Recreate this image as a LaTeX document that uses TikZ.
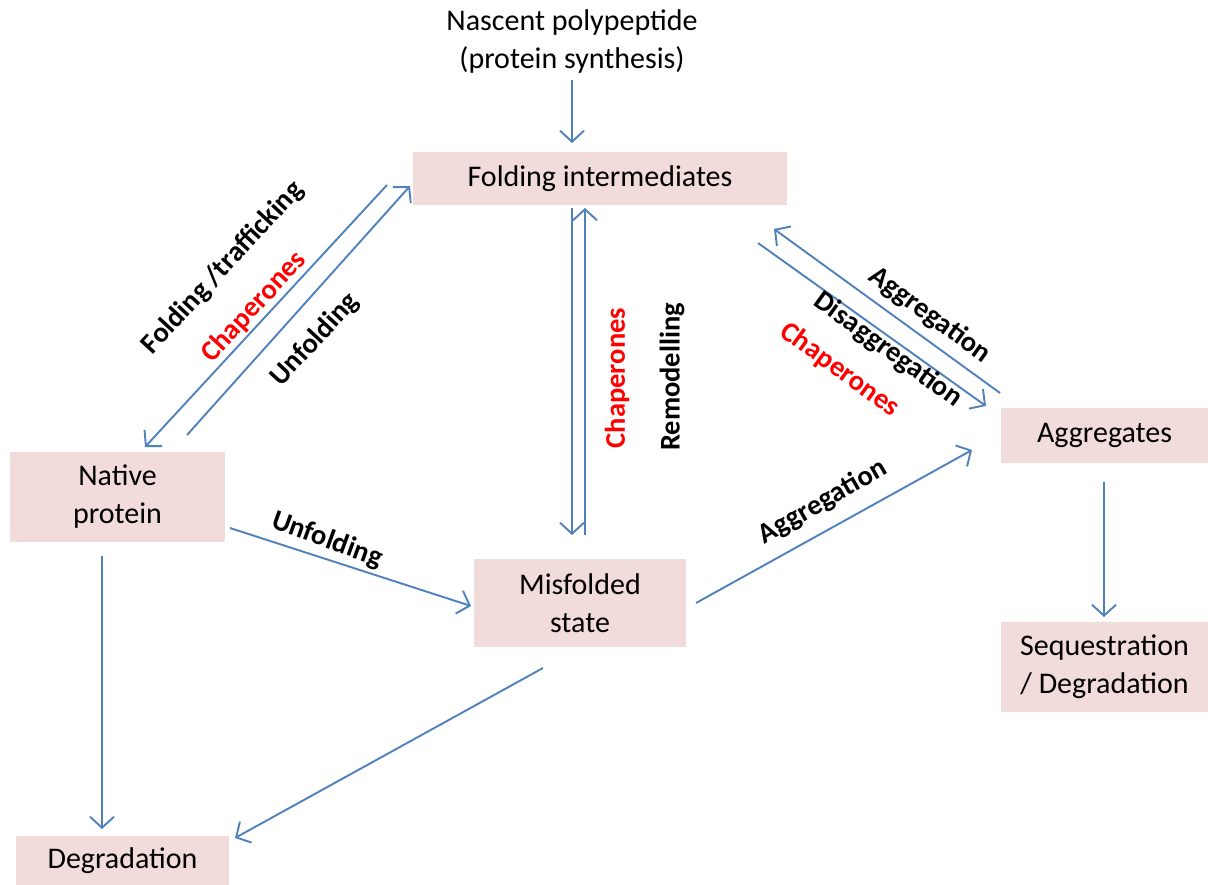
\documentclass[tikz,border=0pt]{standalone}
\usepackage{fontspec}
\setmainfont{Carlito}
\usetikzlibrary{arrows.meta}
\definecolor{boxfill}{HTML}{F2DCDB}
\definecolor{arrowblue}{HTML}{4F81BD}
\definecolor{lblred}{HTML}{FF0000}
\begin{document}
\begin{tikzpicture}[x=1pt,y=-1pt,
  box/.style={fill=boxfill, draw=none, inner sep=0pt, align=center,
    font=\fontsize{30}{38}\selectfont},
  conn/.style={draw=arrowblue, line width=1.9pt,
    -{Straight Barb[length=11pt,width=24pt,line width=1.9pt]}},
  lbl/.style={font=\bfseries\fontsize{28.5}{32}\selectfont, inner sep=0pt},
  redlbl/.style={lbl, text=lblred},
  plain/.style={align=center, inner sep=0pt, font=\fontsize{30}{38}\selectfont}]
\useasboundingbox (0,0) rectangle (1208,885);

% boxes
\node[plain] (nas) at (572,42) {Nascent polypeptide\\(protein synthesis)};
\node[box, minimum width=374pt, minimum height=53pt] (fi) at (600,178.5) {Folding intermediates};
\node[box, minimum width=215pt, minimum height=90pt] (np) at (117.5,497) {Native\\protein};
\node[box, minimum width=212pt, minimum height=88pt] (ms) at (580,603) {Misfolded\\state};
\node[box, minimum width=207pt, minimum height=55pt] (ag) at (1104.5,435.5) {Aggregates};
\node[box, minimum width=207pt, minimum height=90pt] (sq) at (1104.5,667) {Sequestration\\/ Degradation};
\node[box, minimum width=213pt, minimum height=50pt] (dg) at (122.5,861) {Degradation};

% connector end points
\coordinate (a1) at (572,80);   \coordinate (a2) at (572,143);
\coordinate (b1) at (387,185);  \coordinate (b2) at (145,447);
\coordinate (c1) at (187,435);  \coordinate (c2) at (410,186);
\coordinate (d1) at (572,208);  \coordinate (d2) at (572,535);
\coordinate (e1) at (585,535);  \coordinate (e2) at (585,208);
\coordinate (f1) at (1000,393); \coordinate (f2) at (774,229);
\coordinate (g1) at (758,243);  \coordinate (g2) at (986,406);
\coordinate (h1) at (230,528);  \coordinate (h2) at (471,606);
\coordinate (i1) at (696,603);  \coordinate (i2) at (972,450);
\coordinate (j1) at (102,556);  \coordinate (j2) at (102,829);
\coordinate (k1) at (543,668);  \coordinate (k2) at (235,838);
\coordinate (l1) at (1104,482); \coordinate (l2) at (1104,617);

% connectors
\draw[conn] (a1) -- (a2);
\draw[conn] (b1) -- (b2);
\draw[conn] (c1) -- (c2);
\draw[conn] (d1) -- (d2);
\draw[conn] (e1) -- (e2);
\draw[conn] (f1) -- (f2);
\draw[conn] (g1) -- (g2);
\draw[conn] (h1) -- (h2);
\draw[conn] (i1) -- (i2);
\draw[conn] (j1) -- (j2);
\draw[conn] (k1) -- (k2);
\draw[conn] (l1) -- (l2);

% labels
\node[lbl, rotate=47.3] (t1) at (223,268) {Folding /trafficking};
\node[redlbl, rotate=47.3] (t2) at (254,307) {Chaperones};
\node[lbl, rotate=47.3] (t3) at (315,340) {Unfolding};
\node[redlbl, rotate=90] (t4) at (617,378) {Chaperones};
\node[lbl, rotate=90] (t5) at (672,377) {Remodelling};
\node[lbl, rotate=-36] (t6) at (930,315) {Aggregation};
\node[lbl, rotate=-36] (t7) at (888,350) {Disaggregation};
\node[redlbl, rotate=-36] (t8) at (840,370) {Chaperones};
\node[lbl, rotate=-20] (t9) at (327,540) {Unfolding};
\node[lbl, rotate=30] (t10) at (823,502) {Aggregation};
\end{tikzpicture}
\end{document}
